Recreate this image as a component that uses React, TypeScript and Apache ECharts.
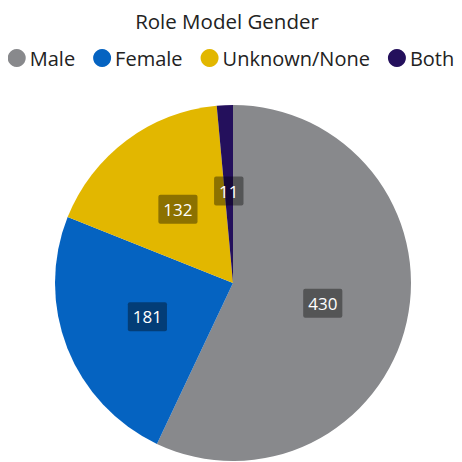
import React, { useEffect, useRef } from "react";
import * as echarts from "echarts";

const categories = ["Male", "Female", "Unknown/None", "Both"];
const values = [430, 181, 132, 11];
const colors = ["#88898c", "#0563c1", "#e2b700", "#24105c"];

export default function App() {
  const ref = useRef<HTMLDivElement>(null);
  useEffect(() => {
    const chart = echarts.init(ref.current!, null, { renderer: "svg" });
    chart.setOption({
      animation: false,
      title: {
        text: "Role Model Gender",
        left: 222,
        textAlign: "center",
        top: 5,
        textStyle: { fontFamily: "Open Sans", fontSize: 20.5, fontWeight: "normal", color: "#222" },
      },
      legend: {
        data: categories,
        top: 43,
        left: "center",
        icon: "circle",
        itemWidth: 18,
        itemHeight: 18,
        itemGap: 18,
        textStyle: { fontFamily: "Open Sans", fontSize: 20, color: "#222", padding: [0, 0, 0, -1] },
      },
      series: [
        {
          type: "pie",
          center: [233, 283],
          radius: 178,
          startAngle: 90,
          clockwise: true,
          color: colors,
          label: {
            show: true,
            position: "inside",
            formatter: "{c}",
            color: "#fff",
            fontFamily: "Open Sans",
            fontSize: 17,
            lineHeight: 19,
            backgroundColor: "rgba(0,0,0,0.38)",
            padding: [5, 5, 5, 5],
            borderRadius: 2,
          },
          labelLine: { show: false },
          itemStyle: { borderWidth: 0 },
          emphasis: { disabled: true },
          data: categories.map((c, i) => ({ name: c, value: values[i] })),
        },
      ],
    });
    return () => chart.dispose();
  }, []);
  return <div ref={ref} style={{ width: 462, height: 462, marginLeft: -8, marginTop: -8 }} />;
}
